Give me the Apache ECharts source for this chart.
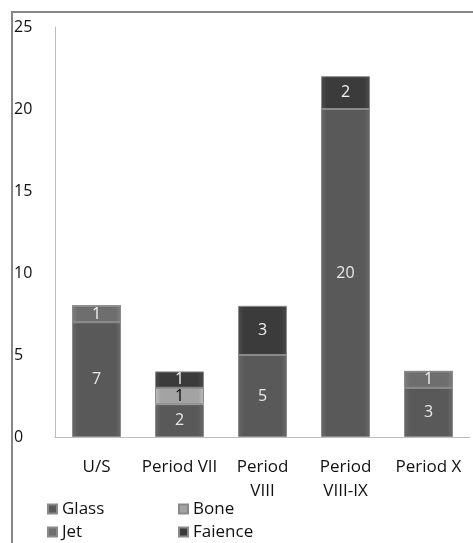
<!DOCTYPE html>
<html>
<head>
<meta charset="utf-8">
<script src="https://cdn.jsdelivr.net/npm/echarts@6/dist/echarts.min.js"></script>
<style>html,body{margin:0;padding:0;background:#fff}#c{width:473px;height:543px}</style>
</head>
<body>
<div id="c"></div>
<script>
var categories = ['U/S', 'Period VII', 'Period\nVIII', 'Period\nVIII-IX', 'Period X'];
var glass = [7, 2, 5, 20, 3];
var bone = [0, 1, 0, 0, 0];
var jet = [1, 0, 0, 0, 1];
var faience = [0, 1, 3, 2, 0];
var yTicks = [0, 5, 10, 15, 20, 25];

var FONT = 'Open Sans';
function fill(c1, c2) {
  return new echarts.graphic.LinearGradient(0, 0, 1, 0, [
    {offset: 0, color: c2}, {offset: 0.12, color: c1}, {offset: 0.88, color: c1}, {offset: 1, color: c2}
  ]);
}
function mk(name, data, c1, c2, labelColor) {
  return {
    name: name, type: 'bar', stack: 'all', data: data, barWidth: 49,
    itemStyle: {color: fill(c1, c2), borderColor: '#8a8a8a', borderWidth: 1},
    label: {
      show: true, position: 'inside', color: labelColor, fontFamily: FONT, fontSize: 16,
      formatter: function (p) { return p.value ? String(p.value) : ''; }
    }
  };
}
var chart = echarts.init(document.getElementById('c'), null, {renderer: 'canvas'});
chart.setOption({
  animation: false,
  color: ['#555555', '#9c9c9c', '#6e6e6e', '#3a3a3a'],
  graphic: [{type: 'rect', shape: {x: 12, y: 12, width: 600, height: 700}, style: {fill: 'none', stroke: '#868686', lineWidth: 2}}],
  grid: {left: 55, right: 3, top: 27, bottom: 106},
  xAxis: {
    type: 'category', data: categories,
    axisLine: {lineStyle: {color: '#bdbdbd', width: 1}},
    axisTick: {show: false},
    axisLabel: {color: '#111', fontFamily: FONT, fontSize: 17, margin: 18, lineHeight: 24, interval: 0}
  },
  yAxis: {
    type: 'value', min: yTicks[0], max: yTicks[yTicks.length - 1], interval: 5,
    axisLine: {show: true, lineStyle: {color: '#bdbdbd', width: 1}},
    axisTick: {show: false},
    splitLine: {show: false},
    axisLabel: {color: '#111', fontFamily: FONT, fontSize: 16, align: 'left', margin: 41}
  },
  legend: {
    left: 42, top: 495, width: 280, orient: 'horizontal', itemGap: 5,
    icon: 'rect', itemWidth: 9, itemHeight: 9,
    textStyle: {color: '#111', fontFamily: FONT, fontSize: 17, width: 111, lineHeight: 18},
    data: ['Glass', 'Bone', 'Jet', 'Faience']
  },
  series: [
    mk('Glass', glass, '#595959', '#6a6a6a', '#e8e8e8'),
    mk('Bone', bone, '#a3a3a3', '#bdbdbd', '#000'),
    mk('Jet', jet, '#6e6e6e', '#808080', '#f2f2f2'),
    mk('Faience', faience, '#3b3b3b', '#4d4d4d', '#f2f2f2')
  ]
});
</script>
</body>
</html>
